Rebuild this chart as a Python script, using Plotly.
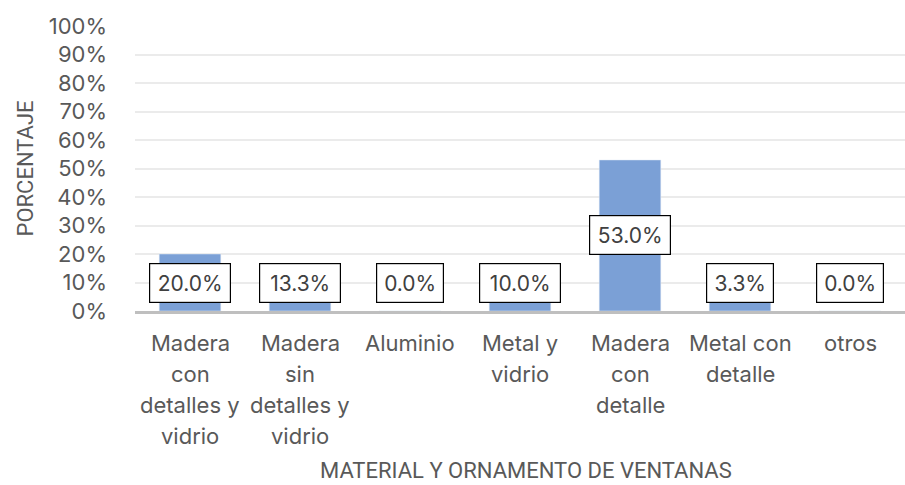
import plotly.graph_objects as go

categories = [
    ["Madera", "con", "detalles y", "vidrio"],
    ["Madera", "sin", "detalles y", "vidrio"],
    ["Aluminio"],
    ["Metal y", "vidrio"],
    ["Madera", "con", "detalle"],
    ["Metal con", "detalle"],
    ["otros"],
]
values = [20.0, 13.3, 0.0, 10.0, 53.0, 3.3, 0.0]
y_ticks = [0, 10, 20, 30, 40, 50, 60, 70, 80, 90, 100]
y_title = "PORCENTAJE"
x_title = "MATERIAL Y ORNAMENTO DE VENTANAS"

FONT = "Inter"
GREY = "#595959"
x_keys = [" ".join(c) for c in categories]

fig = go.Figure()
fig.add_trace(go.Bar(
    x=x_keys, y=values, marker_color="#7BA0D6", width=0.56,
    hoverinfo="skip",
))

annotations = []
# value labels
for k, v in zip(x_keys, values):
    label = f"{v:.1f}%"
    annotations.append(dict(
        x=k, y=max(v / 2, 9.8), xref="x", yref="y",
        text=label, showarrow=False,
        font=dict(family=FONT, size=21, color="#404040"),
        bgcolor="white", bordercolor="black", borderwidth=1.2, borderpad=5,
        width=14 * len(label), height=28,
    ))
# category labels (multi-line)
for k, lines in zip(x_keys, categories):
    for i, line in enumerate(lines):
        annotations.append(dict(
            x=k, y=0, xref="x", yref="paper", yanchor="middle",
            yshift=-(32 + 31 * i), text=line, showarrow=False,
            font=dict(family=FONT, size=22, color=GREY),
        ))
annotations.append(dict(
    x=0, y=0.5, xref="paper", yref="paper", xanchor="center", xshift=-110,
    text=y_title, textangle=-90, showarrow=False,
    font=dict(family="Roboto", size=22, color=GREY),
))
annotations.append(dict(
    x=0.5, y=0, xref="paper", yref="paper", xanchor="center", yanchor="middle",
    xshift=6, yshift=-159,
    text=x_title, showarrow=False,
    font=dict(family="Roboto", size=22, color=GREY),
))

fig.update_layout(
    width=905, height=485,
    margin=dict(l=135, r=0, t=26, b=174),
    paper_bgcolor="white", plot_bgcolor="white",
    showlegend=False,
    annotations=annotations,
    xaxis=dict(
        type="category", range=[-0.5, 6.5], showticklabels=False,
        showline=True, linecolor="#BFBFBF", linewidth=3, showgrid=False,
        fixedrange=True,
    ),
    yaxis=dict(
        range=[0, 100], tickvals=y_ticks, ticktext=[f"{t}%" for t in y_ticks],
        tickfont=dict(family=FONT, size=22, color=GREY),
        showgrid=True, gridcolor="#EBEBEB", gridwidth=1.5,
        zeroline=False, showline=False, ticklabelstandoff=27,
        fixedrange=True,
    ),
)

fig.write_html("out.html", config={"displayModeBar": False},
               post_script="document.body.style.margin='0';")
